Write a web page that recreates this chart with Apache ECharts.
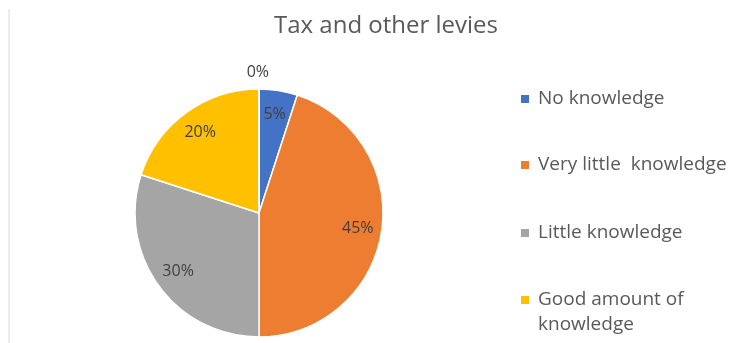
<!DOCTYPE html>
<html>
<head>
<meta charset="utf-8">
<style>
  html, body { margin: 0; padding: 0; background: #ffffff; }
  #chart { width: 743px; height: 343px; }
</style>
<script src="https://cdn.jsdelivr.net/npm/echarts@6/dist/echarts.min.js"></script>
</head>
<body>
<div id="chart"></div>
<script>
// Survey responses: knowledge of tax and other levies (percent)
const categories = ['No knowledge', 'Very little knowledge', 'Little knowledge', 'Good amount of knowledge', 'Excellent knowledge'];
const shares = [5, 45, 30, 20, 0];
const sliceColors = ['#4472C4', '#ED7D31', '#A5A5A5', '#FFC000', '#5B9BD5'];
const legendNames = categories.slice(0, 4);
// Text shown for each legend entry (the last one wraps onto a second line)
const legendText = ['No knowledge', 'Very little  knowledge', 'Little knowledge', 'Good amount of'];
const legendWrap = 'knowledge';

const FONT = '"Open Sans", Lato, sans-serif';
const TEXT = '#595959';
const CENTER = [259, 213];
const R = 124;

const pieData = categories.map((name, i) => ({
  name,
  value: shares[i],
  itemStyle: { color: sliceColors[i] }
}));

// Label ring: its mid-radius puts the percentages near the rim
const labelData = categories.map((name, i) => {
  const item = { name, value: shares[i] };
  if (shares[i] === 0) {
    item.label = { position: 'outside', offset: [15, 0] };
    item.labelLine = { show: false, length: 17, length2: 0 };
  }
  return item;
});

// One legend block per entry so each row sits at its own height
const legendRowCenters = [99, 165, 233, 300];
const legends = legendNames.map((name, i) => ({
  data: [name],
  orient: 'vertical',
  left: 521,
  top: legendRowCenters[i] - 12.5,
  padding: 0,
  icon: 'rect',
  itemWidth: 8,
  itemHeight: 8,
  itemStyle: { borderWidth: 0 },
  selectedMode: false,
  formatter: () => legendText[i],
  textStyle: { fontFamily: FONT, fontSize: 19, color: TEXT, lineHeight: 25, padding: [0, 0, 0, 4] }
}));

const chart = echarts.init(document.getElementById('chart'), null, { renderer: 'canvas' });
chart.setOption({
  backgroundColor: '#ffffff',
  animation: false,
  title: {
    text: 'Tax and other levies',
    left: 381,
    top: 9,
    textAlign: 'center',
    textStyle: { fontFamily: FONT, fontSize: 24, fontWeight: 'normal', color: TEXT }
  },
  legend: legends,
  graphic: [
    {
      type: 'rect',
      shape: { x: 8, y: 9, width: 2, height: 334 },
      style: { fill: '#ececec' },
      silent: true
    },
    {
      type: 'text',
      left: 538,
      top: 325 - 12.5,
      silent: true,
      style: {
        text: legendWrap,
        font: '19px ' + FONT,
        fill: TEXT,
        lineHeight: 25,
        verticalAlign: 'top'
      }
    }
  ],
  series: [
    {
      type: 'pie',
      center: CENTER,
      radius: [0, R],
      startAngle: 90,
      clockwise: true,
      data: pieData,
      label: { show: false },
      labelLine: { show: false },
      itemStyle: { borderColor: '#ffffff', borderWidth: 1.5 },
      emphasis: { disabled: true }
    },
    {
      type: 'pie',
      center: CENTER,
      radius: [70, R],
      startAngle: 90,
      clockwise: true,
      silent: true,
      data: labelData,
      itemStyle: { color: 'rgba(0,0,0,0)', borderWidth: 0 },
      label: {
        show: true,
        position: 'inside',
        formatter: p => p.value + '%',
        fontFamily: FONT,
        fontSize: 16,
        color: '#404040'
      },
      labelLine: { show: false },
      emphasis: { disabled: true }
    }
  ]
});
</script>
</body>
</html>
